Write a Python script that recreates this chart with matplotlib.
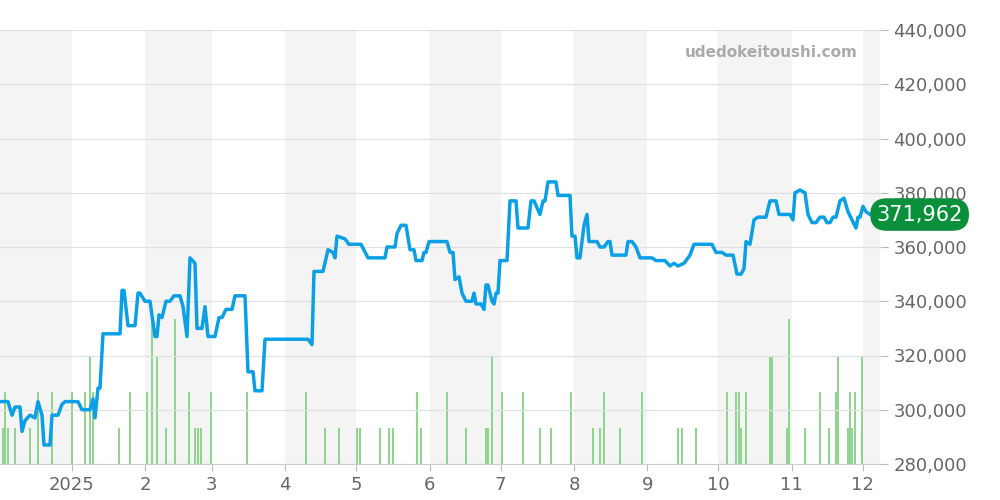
import matplotlib.pyplot as plt
import numpy as np
import datetime as dt
import matplotlib.dates as mdates
from matplotlib.ticker import FuncFormatter

px_per_day = 2.368
jan1_px = 72

# price trace (x in chart pixels from left edge, value in thousands of yen)
price_px = [0, 8, 12, 15, 20, 22, 25, 30, 35, 38, 42, 44, 50, 52, 58, 62, 65, 78, 82, 90, 93, 95, 98, 100,
            103, 120, 122, 124, 128, 135, 138, 140, 145, 150, 155, 157, 159, 162, 166, 170, 174, 180, 183,
            187, 190, 195, 197, 202, 205, 208, 215, 219, 222, 226, 232, 235, 245, 248, 253, 255, 262, 265,
            308, 312, 314, 323, 328, 333, 335, 337, 345, 349, 361, 368, 385, 387, 395, 397, 401, 406, 410,
            414, 416, 422, 424, 426, 429, 447, 450, 453, 455, 459, 462, 466, 472, 474, 476, 481, 484, 486,
            488, 492, 494, 496, 498, 500, 507, 510, 516, 518, 528, 531, 534, 540, 543, 545, 548, 556, 558,
            570, 572, 575, 577, 580, 584, 587, 589, 597, 600, 604, 608, 610, 612, 626, 628, 632, 636, 640,
            652, 656, 665, 670, 674, 678, 684, 690, 694, 712, 716, 722, 726, 733, 737, 741, 744, 746, 750,
            754, 758, 766, 770, 776, 779, 790, 793, 795, 800, 805, 808, 812, 816, 820, 824, 827, 830, 833,
            836, 840, 844, 848, 852, 856, 858, 860, 863, 866, 870, 880]
price_k = [303, 303, 298, 301, 301, 292, 296, 298, 297, 303, 298, 287, 287, 298, 298, 302, 303, 303, 300, 300,
           304, 297, 308, 308, 328, 328, 344, 344, 331, 331, 343, 343, 340, 340, 327, 327, 335, 334, 340, 340,
           342, 342, 338, 327, 356, 354, 330, 330, 338, 327, 327, 334, 334, 337, 337, 342, 342, 314, 314, 307,
           307, 326, 326, 324, 351, 351, 359, 358, 356, 364, 363, 361, 361, 356, 356, 360, 360, 365, 368, 368,
           359, 359, 355, 355, 358, 358, 362, 362, 358, 358, 348, 349, 343, 340, 340, 343, 339, 339, 337, 346,
           346, 340, 339, 343, 343, 355, 355, 377, 377, 367, 367, 377, 377, 372, 377, 377, 384, 384, 379, 379,
           364, 364, 356, 356, 368, 372, 362, 362, 360, 360, 362, 362, 357, 357, 362, 362, 360, 356, 356, 355,
           355, 353, 354, 353, 354, 357, 361, 361, 358, 358, 357, 357, 350, 350, 352, 362, 361, 370, 371, 371,
           377, 377, 372, 372, 370, 380, 381, 380, 372, 369, 369, 371, 371, 369, 369, 371, 371, 377, 378, 373,
           370, 367, 371, 371, 375, 373, 372, 371.962]

# trade volume bars (x in chart pixels, count)
vol_px = [3, 5, 8, 15, 30, 38, 52, 72, 85, 90, 93, 119, 130, 147, 152, 157, 166, 175, 189, 195, 198, 201, 211,
          247, 306, 325, 339, 357, 360, 380, 389, 393, 417, 421, 447, 466, 486, 488, 492, 502, 523, 540, 551,
          571, 593, 600, 604, 620, 642, 678, 682, 696, 727, 736, 739, 741, 746, 770, 772, 787, 789, 805, 820,
          829, 836, 838, 848, 850, 852, 855, 862]
vol = [1, 2, 1, 1, 1, 2, 2, 2, 2, 3, 2, 1, 2, 2, 4, 3, 1, 4, 2, 1, 1, 1, 2,
       2, 2, 1, 1, 1, 1, 1, 1, 1, 2, 1, 2, 1, 1, 1, 3, 2, 2, 1, 1,
       2, 1, 1, 2, 1, 2, 1, 1, 1, 2, 2, 2, 1, 2, 3, 3, 1, 4, 1, 2,
       1, 2, 3, 1, 2, 1, 2, 3]

x0 = mdates.date2num(dt.date(2025, 1, 1)) - jan1_px / px_per_day
x1 = x0 + 880 / px_per_day

def to_date(p):
    return [x0 + x / px_per_day for x in p]

fig = plt.figure(figsize=(10, 5), dpi=100)
ax = fig.add_axes([0, 0.072, 0.88, 0.868])
axv = ax.twinx()
ax.set_zorder(axv.get_zorder() + 1)
ax.patch.set_visible(False)

# month bands
for y, m in [(2024, 12)] + [(2025, k) for k in range(2, 13, 2)]:
    a = mdates.date2num(dt.date(y, m, 1))
    b = mdates.date2num(dt.date(y + (m == 12), m % 12 + 1, 1))
    axv.axvspan(max(a, x0), min(b, x1), color='#f4f4f4', lw=0, zorder=0)

axv.bar(to_date(vol_px), vol, width=0.5, color='#8fd48f', zorder=1)
axv.set_ylim(0, 12)
axv.set_yticks([])

ax.plot(to_date(price_px), np.array(price_k) * 1000, color='#0ba0e6', lw=2.5, zorder=3)
ax.set_xlim(x0, x1)
ax.set_ylim(280000, 440000)
ax.yaxis.tick_right()
ax.set_yticks(range(280000, 440001, 20000))
ax.yaxis.set_major_formatter(FuncFormatter(lambda v, p: f"{int(v):,}"))
ax.grid(axis='y', color='#e0e0e0', lw=0.8)
ax.tick_params(axis='y', colors='#666666', labelsize=13, length=6, color='#bbbbbb')
ax.tick_params(axis='x', colors='#666666', labelsize=13, length=5, color='#bbbbbb')
ticks = [mdates.date2num(dt.date(2025, m, 1)) for m in range(1, 13)]
ax.set_xticks(ticks)
ax.set_xticklabels(['2025'] + [str(m) for m in range(2, 13)])
for s in ['top', 'left', 'right']:
    ax.spines[s].set_visible(False)
    axv.spines[s].set_visible(False)
ax.spines['bottom'].set_color('#cccccc')
axv.spines['bottom'].set_visible(False)

ax.text(0.975, 0.948, 'udedokeitoushi.com', transform=ax.transAxes, ha='right', va='center',
        color='#aaaaaa', fontsize=11, fontweight='bold')
ax.text(1.045, (371962 - 280000) / 160000, f"{price_k[-1] * 1000:,.0f}", transform=ax.transAxes,
        ha='center', va='center', color='white', fontsize=15,
        bbox=dict(boxstyle='round,pad=0.3,rounding_size=0.8', fc='#0a8f3a', ec='none'))

fig.savefig('out.png')
